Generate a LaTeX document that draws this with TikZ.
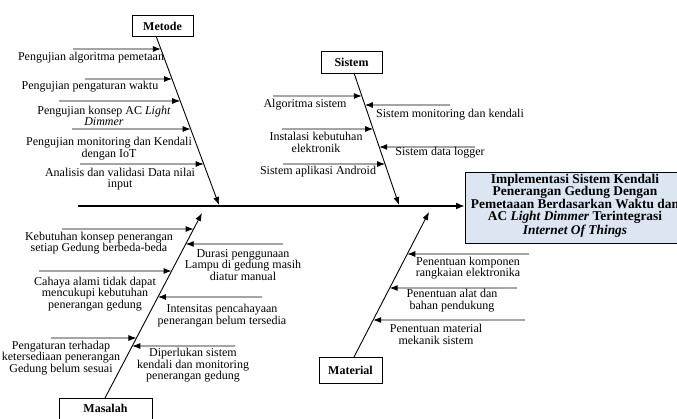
\documentclass[tikz,border=0pt]{standalone}
\usepackage{fontspec}
\setmainfont{Liberation Serif}
\usetikzlibrary{arrows.meta,calc}
\definecolor{headfill}{RGB}{220,230,242}
\tikzset{
  lbl/.style={align=center, inner sep=0pt, font=\fontsize{12}{11.6}\selectfont},
  catbox/.style={draw, line width=0.8pt, fill=white},
  catlbl/.style={inner sep=0pt, font=\fontsize{12}{12}\selectfont\bfseries},
  arr/.style={-{Latex[length=8pt,width=6pt]}, line width=0.9pt},
  spine/.style={-{Latex[length=9pt,width=7pt]}, line width=2.2pt},
}
\begin{document}
\begin{tikzpicture}[x=1pt,y=-1pt]
\useasboundingbox (0,0) rectangle (677,419);

% head box
\node[draw, line width=0.8pt, fill=headfill, minimum width=225pt, minimum height=71pt, inner sep=0pt, anchor=north west] (head) at (465,172) {};
\node[align=center, inner sep=0pt, font=\fontsize{13.4}{12.25}\selectfont\bfseries] (headtxt) at (575,205.5)
 {Implementasi Sistem Kendali\\Penerangan Gedung Dengan\\Pemetaaan Berdasarkan Waktu dan\\AC \textit{Light Dimmer} Terintegrasi\\\textit{Internet Of Things}};

% spine
\coordinate (sp0) at (78,206);
\draw[spine] (sp0) -- (head.west |- sp0);

% category boxes
\draw[catbox] (132,15) rectangle (193,36);
\node[catlbl] (metode) at (162.5,26) {Metode};
\draw[catbox] (321,51) rectangle (382,73);
\node[catlbl] (sistem) at (351.5,62.5) {Sistem};
\draw[catbox] (319,357) rectangle (382,383);
\node[catlbl] (material) at (350.5,370) {Material};
\draw[catbox] (59,398) rectangle (152,425);
\node[catlbl] (masalah) at (105.5,408) {Masalah};

% bones
\coordinate (mA) at (156,36);  \coordinate (mB) at (219,205);
\coordinate (sA) at (354,73);  \coordinate (sB) at (399,205);
\coordinate (qA) at (105,398); \coordinate (qB) at (202,213);
\coordinate (pA) at (354,357); \coordinate (pB) at (429,212);
\draw[arr] (mA) -- (mB);
\draw[arr] (sA) -- (sB);
\draw[arr] (qA) -- (qB);
\draw[arr] (pA) -- (pB);

% Metode causes
\coordinate (m1s) at (73,49);  \coordinate (m1e) at ($(mA)!{13/169}!(mB)$);
\coordinate (m2s) at (85,79);  \coordinate (m2e) at ($(mA)!{43/169}!(mB)$);
\coordinate (m3s) at (59,101); \coordinate (m3e) at ($(mA)!{65/169}!(mB)$);
\coordinate (m4s) at (72,129); \coordinate (m4e) at ($(mA)!{93/169}!(mB)$);
\coordinate (m5s) at (80,164); \coordinate (m5e) at ($(mA)!{128/169}!(mB)$);
\foreach \i in {1,...,5} {\draw[arr] (m\i s) -- (m\i e);}
\node[lbl] (mt1) at (91,58) {Pengujian algoritma pemetaan};
\node[lbl] (mt2) at (90,87) {Pengujian pengaturan waktu};
\node[lbl] (mt3) at (104,116) {Pengujian konsep AC \textit{Light}\\\textit{Dimmer}};
\node[lbl] (mt4) at (109,148.5) {Pengujian monitoring dan Kendali\\dengan IoT};
\node[lbl] (mt5) at (120,179) {Analisis dan validasi Data nilai\\input};

% Sistem causes
\coordinate (s1s) at (273,96);  \coordinate (s1e) at ($(sA)!{23/132}!(sB)$);
\coordinate (s2s) at (282,129); \coordinate (s2e) at ($(sA)!{56/132}!(sB)$);
\coordinate (s3s) at (283,164); \coordinate (s3e) at ($(sA)!{91/132}!(sB)$);
\coordinate (s4s) at (450,105); \coordinate (s4e) at ($(sA)!{32/132}!(sB)$);
\coordinate (s5s) at (475,147); \coordinate (s5e) at ($(sA)!{74/132}!(sB)$);
\foreach \i in {1,...,5} {\draw[arr] (s\i s) -- (s\i e);}
\node[lbl] (st1) at (305,105) {Algoritma sistem};
\node[lbl] (st2) at (316,142.5) {Instalasi kebutuhan\\elektronik};
\node[lbl] (st3) at (318,172) {Sistem aplikasi Android};
\node[lbl] (st4) at (450,115) {Sistem monitoring dan kendali};
\node[lbl] (st5) at (440,153) {Sistem data logger};

% Masalah causes
\coordinate (q1s) at (62,229);  \coordinate (q1e) at ($(qA)!{169/185}!(qB)$);
\coordinate (q2s) at (39,271);  \coordinate (q2e) at ($(qA)!{127/185}!(qB)$);
\coordinate (q3s) at (51,338);  \coordinate (q3e) at ($(qA)!{60/185}!(qB)$);
\coordinate (q4s) at (283,244); \coordinate (q4e) at ($(qA)!{154/185}!(qB)$);
\coordinate (q5s) at (262,297); \coordinate (q5e) at ($(qA)!{101/185}!(qB)$);
\coordinate (q6s) at (235,346); \coordinate (q6e) at ($(qA)!{52/185}!(qB)$);
\foreach \i in {1,...,6} {\draw[arr] (q\i s) -- (q\i e);}
\node[lbl] (qt1) at (99,243) {Kebutuhan konsep penerangan\\setiap Gedung berbeda-beda};
\node[lbl] (qt2) at (95,294) {Cahaya alami tidak dapat\\mencukupi kebutuhan\\penerangan gedung};
\node[lbl] (qt3) at (61,358) {Pengaturan terhadap\\ketersediaan penerangan\\Gedung belum sesuai};
\node[lbl] (qt4) at (243,265) {Durasi penggunaan\\Lampu di gedung masih\\diatur manual};
\node[lbl] (qt5) at (222,315.5) {Intensitas pencahayaan\\penerangan belum tersedia};
\node[lbl] (qt6) at (193,365.5) {Diperlukan sistem\\kendali dan monitoring\\penerangan gedung};

% Material causes
\coordinate (p1s) at (529,254); \coordinate (p1e) at ($(pA)!{103/145}!(pB)$);
\coordinate (p2s) at (517,288); \coordinate (p2e) at ($(pA)!{69/145}!(pB)$);
\coordinate (p3s) at (525,320); \coordinate (p3e) at ($(pA)!{37/145}!(pB)$);
\foreach \i in {1,...,3} {\draw[arr] (p\i s) -- (p\i e);}
\node[lbl] (pt1) at (468,268) {Penentuan komponen\\rangkaian elektronika};
\node[lbl] (pt2) at (452,300.5) {Penentuan alat dan\\bahan pendukung};
\node[lbl] (pt3) at (436,334.5) {Penentuan material\\mekanik sistem};
\end{tikzpicture}
\end{document}
